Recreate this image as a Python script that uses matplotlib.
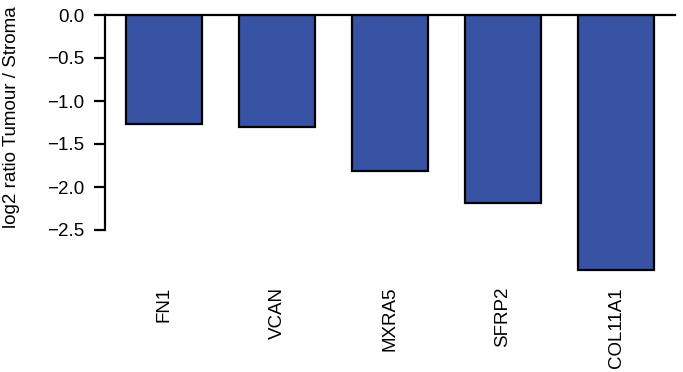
import matplotlib
matplotlib.use("Agg")
import matplotlib.pyplot as plt
import numpy as np

plt.rcParams['font.family'] = ['Liberation Sans', 'DejaVu Sans']

genes = ["FN1", "VCAN", "MXRA5", "SFRP2", "COL11A1"]
log2_ratio = [-1.27, -1.30, -1.81, -2.19, -2.97]
yticks = [0.0, -0.5, -1.0, -1.5, -2.0, -2.5]

W, H = 683, 372
fig = plt.figure(figsize=(W / 100, H / 100), dpi=100)
ax = fig.add_axes([105 / W, 1 - 273 / H, (675 - 105) / W, (273 - 15) / H])

x = np.arange(len(genes))
ax.bar(x, log2_ratio, width=0.67, color="#3853A4", edgecolor="black", linewidth=1.6, zorder=2)

ax.set_xlim(-0.522, len(genes) - 0.478)
ax.set_ylim(-3.0, 0.0)

# axis line at zero on top, left spine only down to -2.5
for s in ["bottom", "right"]:
    ax.spines[s].set_visible(False)
ax.spines["top"].set_linewidth(1.6)
ax.spines["top"].set_zorder(3)
ax.spines["left"].set_linewidth(1.6)
ax.spines["left"].set_bounds(-2.5, 0.0)

fs = 13.5
ax.set_yticks(yticks)
ax.set_yticklabels([f"{v:.1f}".replace("-", "\u2212") for v in yticks])
ax.tick_params(axis="y", length=8, width=1.6, labelsize=fs, pad=7)

ax.set_xticks(x)
ax.set_xticklabels(genes, rotation=90, va="top", ha="center")
ax.tick_params(axis="x", length=0, labelsize=fs, pad=10)

fig.text(12 / W, 1 - 117 / H, "log2 ratio Tumour / Stroma", fontsize=fs,
         rotation=90, ha="center", va="center")

fig.savefig("out.png", dpi=100)
